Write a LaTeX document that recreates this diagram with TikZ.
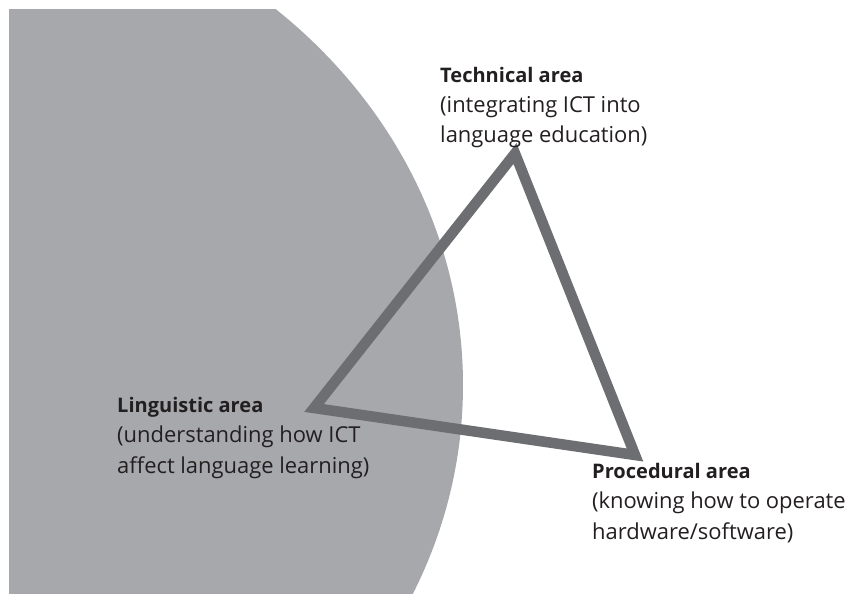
\documentclass[tikz,border=0pt]{standalone}
\usepackage{fontspec}
\setmainfont{Open Sans}

\definecolor{disc}{HTML}{A6A8AB}
\definecolor{edge}{HTML}{6D6E71}
\definecolor{ink}{HTML}{231F20}

\newcommand{\areatitle}[1]{{\fontsize{19}{28}\selectfont\bfseries #1}}

\tikzset{
  area/.style={anchor=north west, align=left, inner sep=0pt, text=ink,
    font=\fontsize{20.8}{28.5}\selectfont}
}

\begin{document}
\begin{tikzpicture}
\useasboundingbox (0,0) rectangle (28.367,19.8);

% Disc
\begin{scope}
\clip (0.3,0) rectangle (28.367,19.467);
\fill[disc] (-2.9,6.967) ellipse (18.333 and 16.667);
\end{scope}

% Corners
\coordinate (tech) at (17.167,14.683);
\coordinate (ling) at (10.467,6.2);
\coordinate (proc) at (21.167,4.633);

% Triangle
\draw[edge, line width=10pt] (tech) -- (ling) -- (proc) -- cycle;

% Labels
\node[area] (techlabel) at (14.667,17.567) {\areatitle{Technical area}\\(integrating ICT into\\language education)};
\node[area] (linglabel) at (3.9,6.55) {\areatitle{Linguistic area}\\(understanding how ICT\\affect language learning)};
\node[area] (proclabel) at (19.733,4.35) {\areatitle{Procedural area}\\(knowing how to operate\\hardware/software)};

\end{tikzpicture}
\end{document}
